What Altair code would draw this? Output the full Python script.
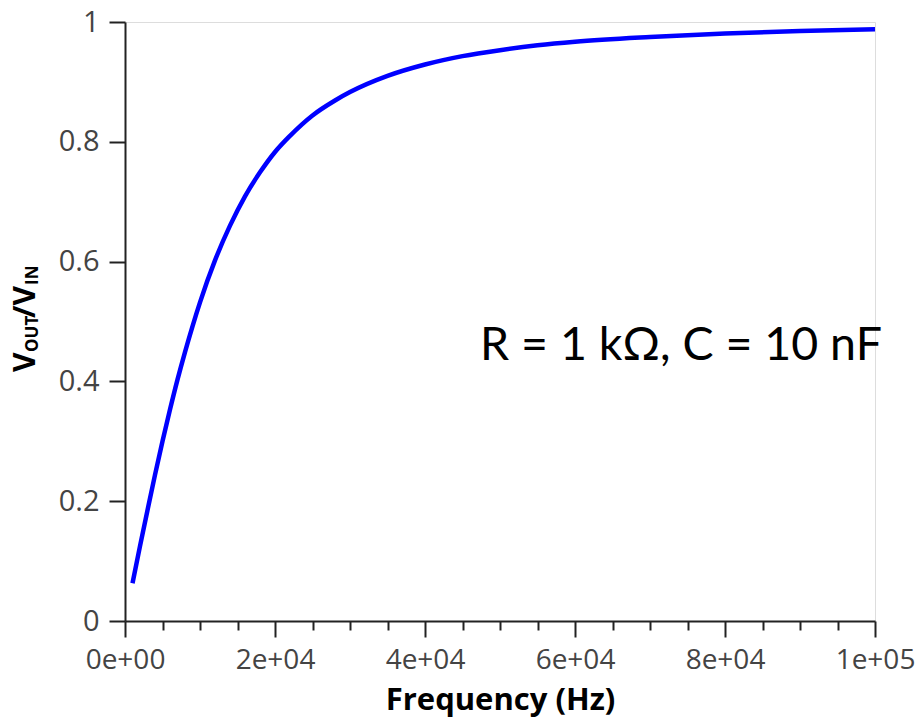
import altair as alt
import pandas as pd

# ---- data ----
freq_hz = [1000, 2000, 3000, 4000, 5000, 6000, 7000, 8000, 9000, 10000,
           12000, 14000, 16000, 18000, 20000, 22000, 25000, 28000, 30000,
           35000, 40000, 45000, 50000, 55000, 60000, 70000, 80000, 90000, 100000]
gain = [0.063, 0.125, 0.185, 0.244, 0.300, 0.353, 0.403, 0.449, 0.492, 0.532,
        0.602, 0.660, 0.709, 0.749, 0.783, 0.810, 0.844, 0.869, 0.883,
        0.910, 0.929, 0.943, 0.953, 0.961, 0.967, 0.975, 0.981, 0.985, 0.988]

x_tick_values = [0, 20000, 40000, 60000, 80000, 100000]
x_tick_labels = ["0e+00", "2e+04", "4e+04", "6e+04", "8e+04", "1e+05"]
x_minor_values = [i * 5000 for i in range(21)]
y_tick_values = [0, 0.2, 0.4, 0.6, 0.8, 1]
y_tick_labels = ["0", "0.2", "0.4", "0.6", "0.8", "1"]
x_title = "Frequency (Hz)"
y_title_parts = ["V", "OUT", "/V", "IN"]
annotation = "R = 1 kΩ, C = 10 nF"

df = pd.DataFrame({"freq": freq_hz, "gain": gain})

W, H = 750, 599
LABEL_FONT = "Open Sans"


def label_expr(values, labels):
    expr = "''"
    for v, l in reversed(list(zip(values, labels))):
        expr = f"abs(datum.value - {v}) < 1e-6 ? '{l}' : ({expr})"
    return expr


major_test = " || ".join(f"abs(datum.value - {v}) < 1e-6" for v in x_tick_values)

x_axis = alt.Axis(
    values=x_minor_values,
    labelExpr=label_expr(x_tick_values, x_tick_labels),
    tickSize={"condition": {"test": major_test, "value": 16}, "value": 9},
    labelOverlap=False,
    labelFlush=False,
    labelFont=LABEL_FONT,
    labelFontSize=28,
    labelColor="#444444",
    labelPadding=9,
    tickColor="#222222",
    tickWidth=2,
    domainColor="#222222",
    domainWidth=2,
    grid=False,
    title=x_title,
    titleFont=LABEL_FONT,
    titleFontSize=31,
    titleFontWeight="bold",
    titleColor="black",
    titlePadding=11,
)

y_axis = alt.Axis(
    values=y_tick_values,
    labelExpr=label_expr(y_tick_values, y_tick_labels),
    tickSize=16,
    labelOverlap=False,
    labelFlush=False,
    labelFont=LABEL_FONT,
    labelFontSize=29,
    labelColor="#444444",
    labelPadding=10,
    tickColor="#222222",
    tickWidth=2,
    domainColor="#222222",
    domainWidth=2,
    grid=False,
    title=None,
)

line = alt.Chart(df).mark_line(color="#0000ff", strokeWidth=4.5, interpolate="monotone").encode(
    x=alt.X("freq:Q", scale=alt.Scale(domain=[0, 100000], nice=False, zero=False), axis=x_axis),
    y=alt.Y("gain:Q", scale=alt.Scale(domain=[0, 1], nice=False), axis=y_axis),
)

ann = alt.Chart(pd.DataFrame({"t": [annotation]})).mark_text(
    font="Lato", fontSize=46.5, color="black", align="left", baseline="alphabetic"
).encode(x=alt.value(355), y=alt.value(338), text="t:N")


def ytitle_piece(txt, x, y, size):
    return alt.Chart(pd.DataFrame({"t": [txt]})).mark_text(
        font=LABEL_FONT, fontSize=size, fontWeight="bold", color="black",
        angle=270, align="left", baseline="alphabetic"
    ).encode(x=alt.value(x), y=alt.value(y), text="t:N")


ytitle = [
    ytitle_piece(y_title_parts[0], -90, 350, 30),
    ytitle_piece(y_title_parts[1], -87, 330, 17),
    ytitle_piece(y_title_parts[2], -90, 296, 30),
    ytitle_piece(y_title_parts[3], -87, 263, 17),
]

chart = alt.layer(line, ann, *ytitle).properties(
    width=W, height=H,
    autosize=alt.AutoSizeParams(type="none"),
    padding={"left": 125, "top": 22, "right": 41, "bottom": 104},
).configure_view(stroke=None).configure(background="white")

chart.save("out.html", embed_options={"renderer": "svg", "actions": False})
